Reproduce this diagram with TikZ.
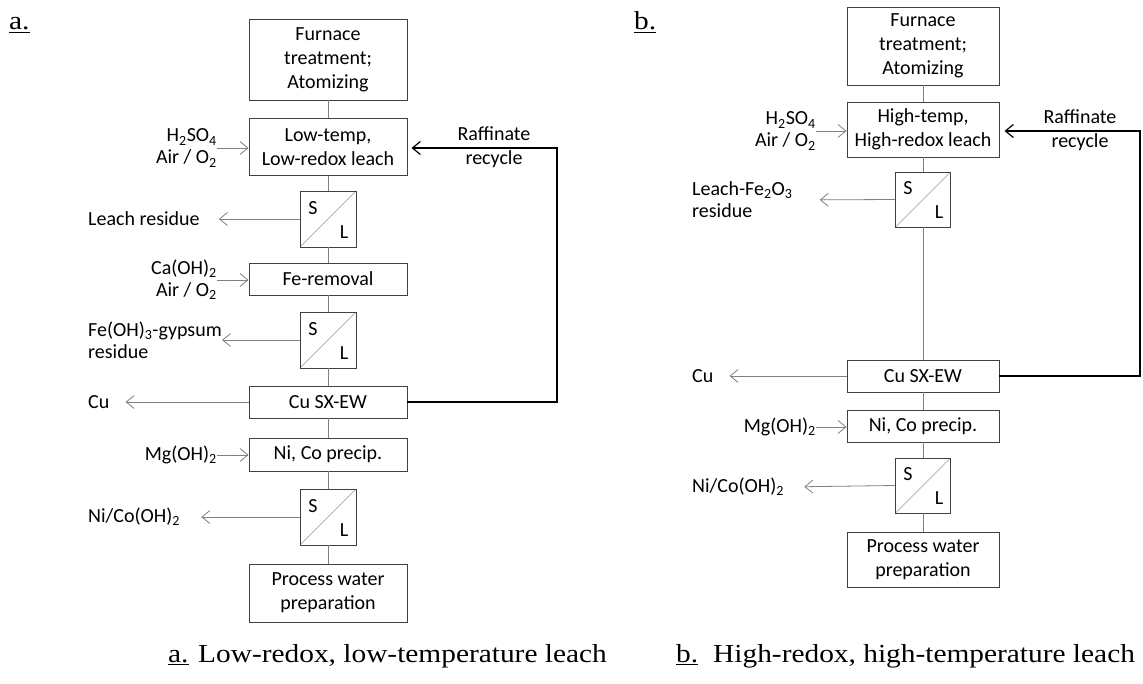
\documentclass[tikz,border=0pt]{standalone}
\usepackage{fontspec}
\setmainfont{Carlito}
\newfontfamily\capfont[FakeStretch=1.13]{Liberation Serif}
\usetikzlibrary{arrows.meta, positioning, calc}
\newcommand{\chemsub}[1]{\textsubscript{#1}}

\begin{document}
\begin{tikzpicture}[x=1pt, y=-1pt,
  every node/.style={font=\fontsize{20}{24}\selectfont},
  proc/.style={draw=black!75, line width=0.9pt, align=center, inner sep=0pt, minimum width=#1},
  proc/.default=158pt,
  sl/.style={draw=black!75, line width=0.9pt, inner sep=0pt, minimum size=#1,
    path picture={
      \draw[black!40, line width=0.6pt] (path picture bounding box.south west) -- (path picture bounding box.north east);
      \node[inner sep=0pt] at ([xshift=-15pt,yshift=11pt]path picture bounding box.center) {S};
      \node[inner sep=0pt] at ([xshift=16pt,yshift=-13pt]path picture bounding box.center) {L};
    }},
  link/.style={draw=black!50, line width=0.8pt},
  feed/.style={link, -{Straight Barb[length=8pt,width=13pt]}},
  recyc/.style={draw=black, line width=1.2pt, -{Straight Barb[length=8pt,width=13pt]}},
  lbl/.style={inner sep=0pt, font=\fontsize{20}{22}\selectfont},
  captext/.style={inner sep=0pt, font=\capfont\fontsize{26}{30}\selectfont}]
\path[use as bounding box, fill=white] (0,0) rectangle (1143,684);

% a: low-redox, low-temperature leach
\node[captext, anchor=base west] (tagA) at (9,30) {\underline{a.}};
\node[proc, minimum height=81pt] (furA) at (328,59.5) {Furnace\\treatment;\\Atomizing};
\node[proc, minimum height=57pt] (leachA) at (328,147) {Low-temp,\\Low-redox leach};
\node[sl=56pt] (slA1) at (328,219) {};
\node[proc, minimum height=32pt] (feA) at (328,279) {Fe-removal};
\node[sl=56pt] (slA2) at (328,340) {};
\node[proc, minimum height=32pt] (cuA) at (328,402) {Cu SX-EW};
\node[proc, minimum height=33pt] (nicoA) at (328,454.5) {Ni, Co precip.};
\node[sl=56pt] (slA3) at (328,517) {};
\node[proc, minimum height=58pt] (pwA) at (328,593) {Process water\\preparation};

\node[lbl, align=right, anchor=east] (acidA) at (217,148) {H\chemsub{2}SO\chemsub{4}\\Air / O\chemsub{2}};
\node[lbl, align=right, anchor=east] (limeA) at (217,280) {Ca(OH)\chemsub{2}\\Air / O\chemsub{2}};
\node[lbl, anchor=east] (mgA) at (217,455) {Mg(OH)\chemsub{2}};
\node[lbl, anchor=west] (resA) at (88,219) {Leach residue};
\node[lbl, align=left, anchor=west] (feresA) at (88,340) {Fe(OH)\chemsub{3}-gypsum\\residue};
\node[lbl, anchor=west] (cuoutA) at (88,402) {Cu};
\node[lbl, anchor=west] (nicoutA) at (88,517) {Ni/Co(OH)\chemsub{2}};
\node[align=center, inner sep=0pt] (rafA) at (494,147) {Raffinate\\recycle};
\coordinate (retA) at (557,148);

\draw[feed] (acidA.east) -- (acidA.east -| leachA.west);
\draw[feed] (limeA.east) -- (limeA.east -| feA.west);
\draw[feed] (mgA.east) -- (mgA.east -| nicoA.west);
\draw[feed, shorten >=19pt] (slA1.west) -- (resA.east);
\draw[feed] (slA2.west) -- (slA2.west -| feresA.east);
\draw[feed, shorten >=16pt] (cuA.west) -- (cuoutA.east);
\draw[feed, shorten >=21pt] (slA3.west) -- (nicoutA.east);
\draw[recyc, shorten >=4pt] (cuA.east) -| (retA) -- (retA -| leachA.east);

% b: high-redox, high-temperature leach
\node[captext, anchor=base west] (tagB) at (634,30) {\underline{b.}};
\node[proc=152pt, minimum height=78pt] (furB) at (923,46) {Furnace\\treatment;\\Atomizing};
\node[proc=152pt, minimum height=55pt] (leachB) at (923,129.5) {High-temp,\\High-redox leach};
\node[sl=55pt] (slB1) at (923,199.5) {};
\node[proc=152pt, minimum height=32pt] (cuB) at (923,376) {Cu SX-EW};
\node[proc=152pt, minimum height=32pt] (nicoB) at (923,426) {Ni, Co precip.};
\node[sl=55pt] (slB2) at (923,485.5) {};
\node[proc=152pt, minimum height=55pt] (pwB) at (923,559.5) {Process water\\preparation};

\node[lbl, align=right, anchor=east] (acidB) at (816,131) {H\chemsub{2}SO\chemsub{4}\\Air / O\chemsub{2}};
\node[lbl, anchor=east] (mgB) at (816,427) {Mg(OH)\chemsub{2}};
\node[lbl, align=left, anchor=west] (resB) at (692,200) {Leach-Fe\chemsub{2}O\chemsub{3}\\residue};
\node[lbl, anchor=west] (cuoutB) at (692,376) {Cu};
\node[lbl, anchor=west] (nicoutB) at (692,487) {Ni/Co(OH)\chemsub{2}};
\node[align=center, inner sep=0pt] (rafB) at (1080,130) {Raffinate\\recycle};
\coordinate (retB) at (1140,131);

\draw[feed] (acidB.east) -- (acidB.east -| leachB.west);
\draw[feed] (mgB.east) -- (mgB.east -| nicoB.west);
\draw[feed, shorten >=27pt] (slB1.west) -- (resB.east);
\draw[feed, shorten >=16pt] (cuB.west) -- (cuoutB.east);
\draw[feed, shorten >=20pt] (slB2.west) -- (nicoutB.east);
\draw[recyc, shorten >=5pt] (cuB.east) -| (retB) -- (retB -| leachB.east);

% main flow
\foreach \u/\v in {furA/leachA, leachA/slA1, slA1/feA, feA/slA2, slA2/cuA, cuA/nicoA, nicoA/slA3, slA3/pwA,
                   furB/leachB, leachB/slB1, slB1/cuB, cuB/nicoB, nicoB/slB2, slB2/pwB}
  \draw[link] (\u) -- (\v);

% captions
\node[captext, anchor=base west] (capTagA) at (168,662) {\underline{a.}};
\node[captext, anchor=base west] (capA) at (198,662) {Low-redox, low-temperature leach};
\node[captext, anchor=base west] (capTagB) at (676,662) {\underline{b.}};
\node[captext, anchor=base west] (capB) at (713,662) {High-redox, high-temperature leach};
\end{tikzpicture}
\end{document}
